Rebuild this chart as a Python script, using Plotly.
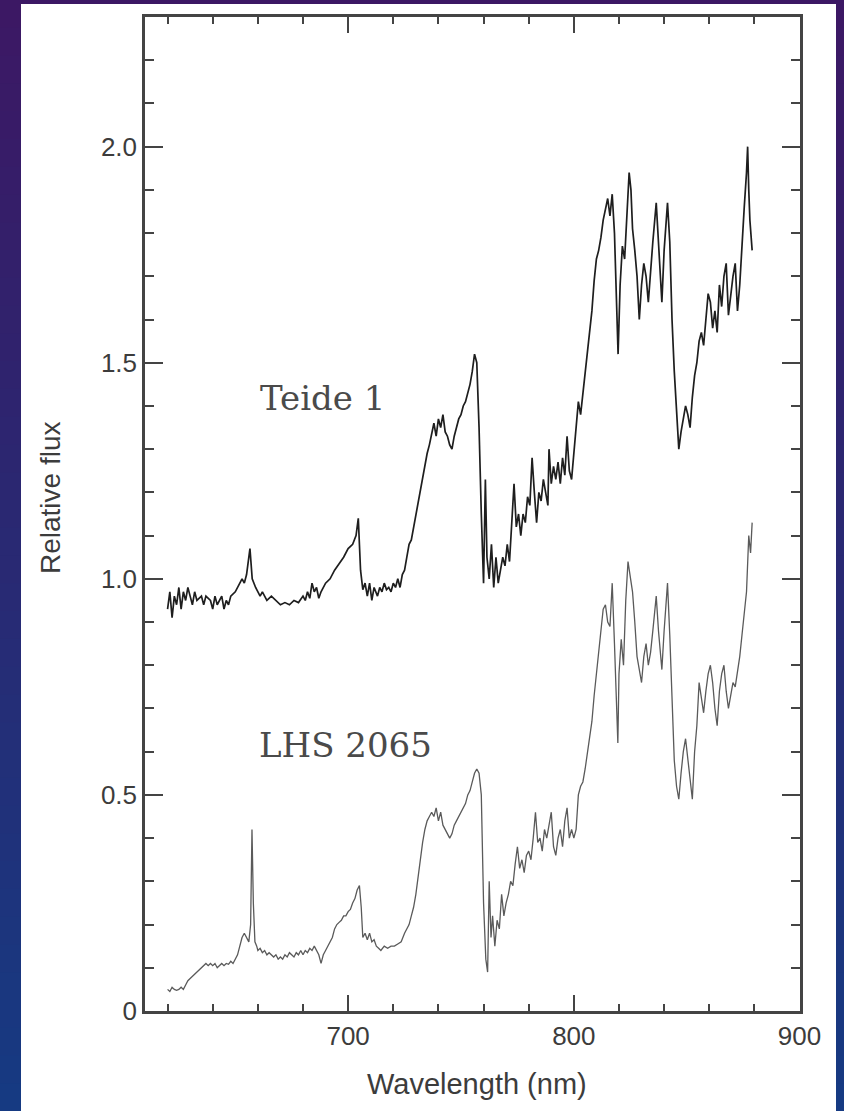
import plotly.graph_objects as go

# ---------------- data ----------------
teide_wl = [620, 621, 622, 623, 624, 625, 626, 627, 628, 629, 630, 631, 632, 633, 635, 636, 637, 639, 640, 641,
            642, 644, 645, 646, 647, 648, 650, 652, 653, 654, 655, 656.5, 657.5, 659, 661, 662, 664, 666, 668, 670,
            672, 674, 676, 678, 680, 681, 682, 683, 684, 685, 686, 687, 688, 690, 692, 694, 696, 698, 700, 702,
            703.5, 704.5, 705.5, 706.5, 707.5, 708.5, 709.5, 710.5, 711.5, 713, 714, 715, 716, 717, 718, 719, 720,
            721, 722, 723, 724, 725, 726, 727, 728, 729, 730, 731, 732, 733, 734, 735, 736, 737, 738, 739, 740,
            741, 742, 743, 744, 745, 746, 747, 748, 749, 750, 751, 752, 753, 754, 755, 756, 757, 758, 759, 760,
            760.8, 761.5, 762.5, 763.5, 764.5, 765.5, 766.5, 767.5, 768.5, 769.5, 770.5, 771.5, 772.5, 773.5,
            774.5, 775.5, 776.5, 777.5, 778.5, 779.5, 780.5, 781.5, 782.5, 783.5, 784.5, 785.5, 786.5, 787.5,
            788.5, 789, 790, 791, 792, 793, 794, 795, 796, 797, 798, 799, 800, 801, 802, 803, 804, 805, 806, 807,
            808, 809, 810, 811, 812, 813, 814, 815, 816, 817, 818, 819, 819.6, 820.5, 821.5, 822.5, 823.5, 824.5,
            825.3, 826, 827, 828, 829, 830, 831, 832, 833, 834, 835, 836.5, 837.5, 838.5, 839, 840, 841.5, 842.5,
            843.5, 844.5, 845.5, 846.5, 847.5, 848.5, 849.5, 850.5, 851.5, 852.5, 853.5, 854.5, 855.5, 856.5,
            857.5, 858.5, 859.5, 860.5, 861.5, 862.5, 863.5, 864.5, 865.5, 866.5, 867.5, 868.5, 869.5, 870.5,
            871.5, 872.5, 873.5, 874.5, 875.5, 876.5, 877, 877.5, 878, 879]
teide_flux = [0.93, 0.97, 0.91, 0.96, 0.94, 0.98, 0.93, 0.97, 0.95, 0.98, 0.96, 0.94, 0.97, 0.95, 0.96, 0.94, 0.96,
              0.95, 0.93, 0.96, 0.94, 0.96, 0.93, 0.95, 0.94, 0.96, 0.97, 0.99, 1.0, 0.99, 1.01, 1.07, 1.0, 0.98,
              0.96, 0.97, 0.95, 0.96, 0.95, 0.94, 0.945, 0.94, 0.95, 0.945, 0.96, 0.95, 0.97, 0.955, 0.99, 0.97,
              0.98, 0.955, 0.97, 0.99, 1.0, 1.02, 1.035, 1.05, 1.07, 1.08, 1.10, 1.14, 1.02, 0.975, 0.99, 0.96,
              0.99, 0.95, 0.98, 0.96, 0.98, 0.97, 0.99, 0.975, 0.98, 0.97, 0.99, 0.98, 1.0, 0.98, 1.01, 1.02, 1.05,
              1.08, 1.09, 1.12, 1.15, 1.18, 1.2, 1.24, 1.27, 1.29, 1.31, 1.34, 1.36, 1.33, 1.37, 1.35, 1.38, 1.34,
              1.33, 1.31, 1.30, 1.33, 1.35, 1.37, 1.38, 1.40, 1.41, 1.43, 1.45, 1.48, 1.52, 1.50, 1.35, 1.15, 0.99,
              1.23, 1.05, 1.0, 1.08, 0.98, 1.05, 0.99, 1.02, 1.05, 1.03, 1.08, 1.04, 1.12, 1.22, 1.12, 1.15, 1.10,
              1.15, 1.13, 1.19, 1.17, 1.28, 1.20, 1.13, 1.20, 1.18, 1.23, 1.20, 1.17, 1.30, 1.22, 1.26, 1.23, 1.27,
              1.22, 1.28, 1.24, 1.33, 1.25, 1.23, 1.29, 1.35, 1.41, 1.38, 1.43, 1.47, 1.53, 1.58, 1.62, 1.69, 1.74,
              1.76, 1.79, 1.83, 1.86, 1.88, 1.84, 1.89, 1.80, 1.60, 1.52, 1.68, 1.77, 1.74, 1.85, 1.94, 1.90, 1.81,
              1.76, 1.70, 1.60, 1.68, 1.73, 1.70, 1.64, 1.72, 1.78, 1.87, 1.77, 1.70, 1.64, 1.76, 1.87, 1.78, 1.60,
              1.48, 1.38, 1.30, 1.34, 1.37, 1.40, 1.38, 1.35, 1.42, 1.47, 1.50, 1.55, 1.57, 1.54, 1.60, 1.66, 1.64,
              1.58, 1.62, 1.57, 1.68, 1.63, 1.70, 1.73, 1.61, 1.66, 1.70, 1.73, 1.62, 1.68, 1.78, 1.86, 1.94, 2.0,
              1.90, 1.83, 1.76]

lhs_wl = [620, 621, 622, 623, 624, 625, 626, 627, 628, 629, 630, 631, 632, 633, 634, 635, 636, 637, 638, 639, 640,
          641, 642, 643, 644, 645, 646, 647, 648, 649, 650, 651, 652, 653, 654, 655, 656, 656.8, 657.4, 658, 658.7,
          659.5, 660, 661, 662, 663, 664, 665, 666, 667, 668, 669, 670, 671, 672, 673, 674, 675, 676, 677, 678,
          679, 680, 681, 682, 683, 684, 685, 686, 687, 688, 689, 690, 691, 692, 693, 694, 695, 696, 697, 698, 699,
          700, 701, 702, 703, 704, 705, 705.8, 706.5, 707.5, 708.5, 709.5, 710.5, 711.5, 712.5, 713.5, 714.5, 716,
          717.5, 719, 720.5, 722, 723.5, 725, 726, 727, 728, 729, 730, 731, 732, 733, 734, 735, 736, 737, 738, 739,
          740, 741, 742, 743, 744, 745, 746, 747, 748, 749, 750, 751, 752, 753, 754, 755, 756, 757, 758, 759, 760,
          761, 761.8, 762.5, 763.3, 764, 765, 766, 767, 768, 769, 770, 771, 772, 773, 774, 775, 776, 777, 778,
          779, 780, 781, 782, 783, 784, 785, 786, 787, 788, 789, 790, 791, 792, 793, 794, 795, 796, 797, 798, 799,
          800, 801, 802, 803, 804, 805, 806, 807, 808, 809, 810, 811, 812, 813, 814, 815, 816, 817, 818, 819,
          819.5, 820, 821, 822, 823, 824, 825, 826, 827, 828, 829, 830, 831, 832, 833, 834, 835, 836.5, 837.5,
          838.5, 839, 840, 841.5, 842.5, 843.5, 844.5, 845.5, 846.5, 847.5, 848.5, 849.5, 850.5, 851.5, 852.5,
          853.5, 854.5, 855.5, 856.5, 857.5, 858.5, 859.5, 860.5, 861.5, 862.5, 863.5, 864.5, 865.5, 866.5,
          867.5, 868.5, 869.5, 870.5, 871.5, 872.5, 873.5, 874.5, 875.5, 876.5, 877.5, 878.3, 879]
lhs_flux = [0.05, 0.045, 0.055, 0.05, 0.048, 0.05, 0.055, 0.05, 0.06, 0.07, 0.075, 0.08, 0.085, 0.09, 0.095, 0.10,
            0.105, 0.11, 0.105, 0.11, 0.105, 0.11, 0.10, 0.105, 0.11, 0.105, 0.11, 0.108, 0.115, 0.11, 0.12, 0.13,
            0.15, 0.17, 0.18, 0.17, 0.16, 0.20, 0.42, 0.25, 0.16, 0.15, 0.14, 0.145, 0.135, 0.14, 0.13, 0.135,
            0.13, 0.125, 0.13, 0.12, 0.125, 0.12, 0.13, 0.125, 0.135, 0.13, 0.125, 0.135, 0.13, 0.14, 0.13, 0.14,
            0.135, 0.145, 0.14, 0.15, 0.14, 0.13, 0.11, 0.13, 0.14, 0.15, 0.16, 0.17, 0.19, 0.2, 0.205, 0.21, 0.22,
            0.22, 0.23, 0.235, 0.25, 0.26, 0.28, 0.29, 0.24, 0.17, 0.18, 0.165, 0.18, 0.16, 0.165, 0.15, 0.145,
            0.14, 0.15, 0.145, 0.15, 0.15, 0.155, 0.16, 0.18, 0.19, 0.2, 0.22, 0.24, 0.27, 0.31, 0.36, 0.39, 0.42,
            0.44, 0.45, 0.46, 0.45, 0.47, 0.44, 0.46, 0.43, 0.42, 0.41, 0.40, 0.41, 0.43, 0.44, 0.45, 0.46, 0.47,
            0.48, 0.50, 0.51, 0.53, 0.55, 0.56, 0.55, 0.50, 0.25, 0.12, 0.09, 0.30, 0.17, 0.22, 0.15, 0.21, 0.19,
            0.27, 0.22, 0.25, 0.27, 0.30, 0.29, 0.34, 0.38, 0.33, 0.35, 0.32, 0.36, 0.37, 0.35, 0.40, 0.46, 0.39,
            0.40, 0.37, 0.42, 0.40, 0.43, 0.46, 0.38, 0.36, 0.40, 0.42, 0.38, 0.44, 0.47, 0.40, 0.42, 0.40, 0.42,
            0.50, 0.52, 0.53, 0.56, 0.60, 0.63, 0.67, 0.73, 0.78, 0.83, 0.88, 0.93, 0.94, 0.90, 0.89, 0.99, 0.85,
            0.70, 0.62, 0.78, 0.86, 0.80, 0.95, 1.04, 1.00, 0.97, 0.90, 0.82, 0.79, 0.76, 0.82, 0.85, 0.80, 0.83,
            0.88, 0.96, 0.88, 0.82, 0.79, 0.88, 0.99, 0.87, 0.70, 0.58, 0.52, 0.49, 0.55, 0.60, 0.63, 0.58, 0.54,
            0.49, 0.60, 0.66, 0.76, 0.72, 0.69, 0.74, 0.78, 0.80, 0.76, 0.70, 0.66, 0.74, 0.78, 0.80, 0.74, 0.70,
            0.73, 0.76, 0.75, 0.78, 0.82, 0.87, 0.92, 0.97, 1.10, 1.06, 1.13]

x_tick_vals = [700, 800, 900]
x_tick_text = ["700", "800", "900"]
y_tick_vals = [0, 0.5, 1.0, 1.5, 2.0]
y_tick_text = ["0", "0.5", "1.0", "1.5", "2.0"]

label_teide = "Teide 1"
label_lhs = "LHS 2065"
x_title = "Wavelength (nm)"
y_title = "Relative flux"

# ---------------- figure ----------------
W, H = 844, 1111
ML, MR, MT, MB = 145, 44, 17, 100
PW, PH = W - ML - MR, H - MT - MB


def px2paper_x(px):
    return (px - ML) / PW


def px2paper_y(py):
    return (H - MB - py) / PH


fig = go.Figure()
fig.add_trace(go.Scatter(x=lhs_wl, y=lhs_flux, mode="lines",
                         line=dict(color="#5a5a5a", width=1.3), showlegend=False))
fig.add_trace(go.Scatter(x=teide_wl, y=teide_flux, mode="lines",
                         line=dict(color="#1e1e1e", width=1.7), showlegend=False))

# background gradient (purple -> blue)
shapes = []
n_bands = 40
top_c = (60, 24, 100)
bot_c = (22, 58, 130)
for i in range(n_bands):
    t = i / (n_bands - 1)
    c = tuple(int(round(top_c[k] + (bot_c[k] - top_c[k]) * t)) for k in range(3))
    y0 = i * H / n_bands
    y1 = (i + 1) * H / n_bands + 1
    shapes.append(dict(type="rect", xref="paper", yref="paper", layer="below",
                       x0=px2paper_x(-2), x1=px2paper_x(W + 2),
                       y0=px2paper_y(y1), y1=px2paper_y(y0),
                       fillcolor="rgb(%d,%d,%d)" % c, line=dict(width=0)))
# white page
shapes.append(dict(type="rect", xref="paper", yref="paper", layer="below",
                   x0=px2paper_x(21), x1=px2paper_x(836),
                   y0=px2paper_y(H + 2), y1=px2paper_y(4),
                   fillcolor="white", line=dict(width=0)))

axis_col = "#444444"
txt_col = "#3c3c3c"
fig.update_layout(
    width=W, height=H,
    margin=dict(l=ML, r=MR, t=MT, b=MB, autoexpand=False),
    paper_bgcolor="rgb(40,40,115)",
    plot_bgcolor="rgba(0,0,0,0)",
    shapes=shapes,
    font=dict(family="Liberation Sans, Arial, sans-serif", color=txt_col),
    xaxis=dict(range=[610, 900.2], tickmode="array", tickvals=x_tick_vals, ticktext=x_tick_text,
               ticks="inside", ticklen=16, tickwidth=2, tickcolor=axis_col,
               minor=dict(dtick=20, tick0=600, ticks="inside", ticklen=7, tickwidth=2, tickcolor=axis_col),
               showline=True, linecolor=axis_col, linewidth=2.5, mirror="allticks",
               showgrid=False, zeroline=False,
               tickfont=dict(size=26, color=txt_col)),
    yaxis=dict(range=[0, 2.3], tickmode="array", tickvals=y_tick_vals, ticktext=y_tick_text,
               ticks="inside", ticklen=18, tickwidth=2, tickcolor=axis_col,
               minor=dict(dtick=0.1, tick0=0, ticks="inside", ticklen=9, tickwidth=2, tickcolor=axis_col),
               showline=True, linecolor=axis_col, linewidth=2.5, mirror="allticks",
               showgrid=False, zeroline=False,
               tickfont=dict(size=26, color=txt_col)),
    annotations=[
        dict(text=x_title, xref="paper", yref="paper", x=px2paper_x(477), y=px2paper_y(1084),
             showarrow=False, font=dict(size=29, color=txt_col), xanchor="center", yanchor="middle"),
        dict(text=y_title, xref="paper", yref="paper", x=px2paper_x(50), y=px2paper_y(498),
             showarrow=False, textangle=-90, font=dict(size=28, color=txt_col),
             xanchor="center", yanchor="middle"),
        dict(text=label_teide, xref="paper", yref="paper", x=px2paper_x(322), y=px2paper_y(398),
             showarrow=False, font=dict(family="DejaVu Serif", size=34, color="#4a4a4a"),
             xanchor="center", yanchor="middle"),
        dict(text=label_lhs, xref="paper", yref="paper", x=px2paper_x(345), y=px2paper_y(745),
             showarrow=False, font=dict(family="DejaVu Serif", size=34, color="#4a4a4a"),
             xanchor="center", yanchor="middle"),
    ],
)

fig.write_html("out.html")
